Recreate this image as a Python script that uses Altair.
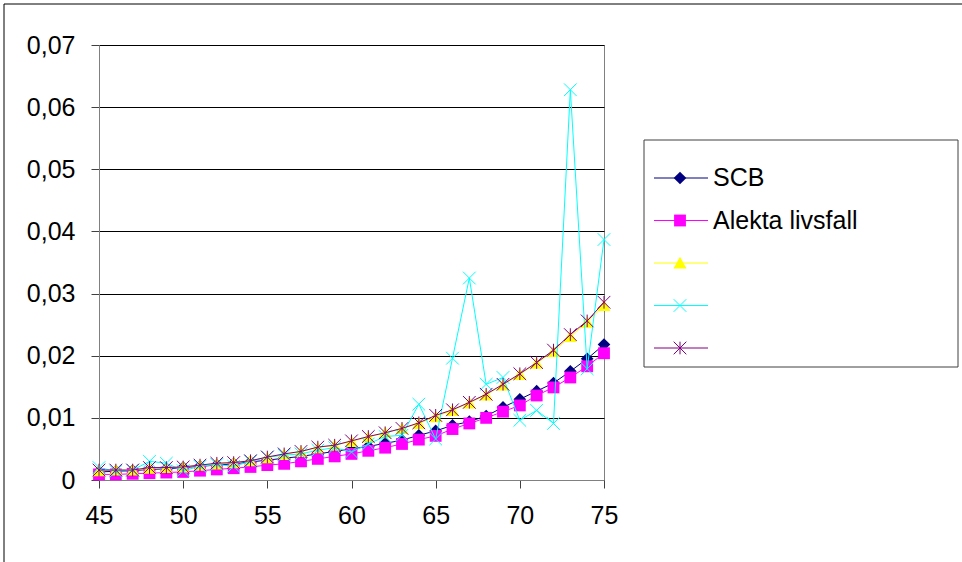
import altair as alt
import pandas as pd

# ---------------- data ----------------
ages = list(range(45, 76))
series_names = ["SCB", "Alekta livsfall", "Serie 3", "Serie 4", "Serie 5"]
legend_labels = ["SCB", "Alekta livsfall", "", "", ""]

scb = [0.0013, 0.0014, 0.0015, 0.0017, 0.0018, 0.0020, 0.0022, 0.0024, 0.0026, 0.0029,
       0.0032, 0.0035, 0.0038, 0.0042, 0.0046, 0.0050, 0.0054, 0.0059, 0.0064, 0.0072,
       0.0079, 0.0088, 0.0094, 0.0103, 0.0117, 0.0130, 0.0143, 0.0156, 0.0175, 0.0195,
       0.0218]
alekta = [0.0009, 0.0009, 0.0010, 0.0011, 0.0012, 0.0013, 0.0015, 0.0017, 0.0019, 0.0021,
          0.0024, 0.0026, 0.0030, 0.0034, 0.0038, 0.0042, 0.0047, 0.0052, 0.0058, 0.0065,
          0.0071, 0.0082, 0.0091, 0.0100, 0.0110, 0.0120, 0.0136, 0.0149, 0.0165, 0.0183,
          0.0204]
serie3 = [0.0015, 0.0016, 0.0016, 0.0019, 0.0020, 0.0021, 0.0024, 0.0026, 0.0028, 0.0031,
          0.0036, 0.0041, 0.0046, 0.0052, 0.0056, 0.0062, 0.0069, 0.0076, 0.0083, 0.0091,
          0.0102, 0.0112, 0.0124, 0.0137, 0.0153, 0.0170, 0.0188, 0.0207, 0.0231, 0.0254,
          0.0281]
serie4 = [0.0020, 0.0014, 0.0016, 0.0030, 0.0027, 0.0015, 0.0022, 0.0025, 0.0022, 0.0030,
          0.0037, 0.0040, 0.0042, 0.0048, 0.0052, 0.0045, 0.0058, 0.0070, 0.0072, 0.0122,
          0.0066, 0.0196, 0.0325, 0.0154, 0.0165, 0.0096, 0.0112, 0.0091, 0.0628, 0.0179,
          0.0387]
serie5 = [0.0016, 0.0016, 0.0016, 0.0020, 0.0020, 0.0021, 0.0024, 0.0027, 0.0028, 0.0031,
          0.0037, 0.0042, 0.0046, 0.0053, 0.0056, 0.0063, 0.0070, 0.0076, 0.0083, 0.0092,
          0.0104, 0.0113, 0.0125, 0.0138, 0.0154, 0.0171, 0.0189, 0.0209, 0.0234, 0.0256,
          0.0286]

x_ticks = [45, 50, 55, 60, 65, 70, 75]
y_ticks = [0, 0.01, 0.02, 0.03, 0.04, 0.05, 0.06, 0.07]

colors = ["#000080", "#FF00FF", "#FFFF00", "#00FFFF", "#800080"]

# ---------------- styles ----------------
FONT = "Liberation Sans"
X_PATH = "M-1,-1L1,1M-1,1L1,-1"
STAR_PATH = "M-1,-1L1,1M-1,1L1,-1M0,-1L0,1"
TRI_PATH = "M-1,0.85L0,-0.95L1,0.85Z"
marker_styles = [
    dict(shape="diamond", size=160, filled=True),
    dict(shape="square", size=140, filled=True),
    dict(shape=TRI_PATH, size=170, filled=True),
    dict(shape=X_PATH, size=160, filled=False),
    dict(shape=STAR_PATH, size=160, filled=False),
]

rows = []
for name, vals in zip(series_names, [scb, alekta, serie3, serie4, serie5]):
    for a, v in zip(ages, vals):
        rows.append({"series": name, "age": a, "value": v})
df = pd.DataFrame(rows)

x_enc = alt.X(
    "age:Q",
    scale=alt.Scale(domain=[45, 75], nice=False, zero=False),
    axis=alt.Axis(values=x_ticks, title=None, grid=False, tickSize=8, labelPadding=15,
                  labelFontSize=25, labelFont=FONT, labelColor="black",
                  domainColor="#808080", tickColor="#404040", labelFlush=False,
                  labelOverlap=False),
)
y_enc = alt.Y(
    "value:Q",
    scale=alt.Scale(domain=[0, 0.07], nice=False, zero=True),
    axis=alt.Axis(values=y_ticks, title=None, grid=True, gridColor="black", gridWidth=1,
                  tickSize=8, labelPadding=16, labelFontSize=25, labelFont=FONT,
                  labelColor="black", domainColor="#808080", tickColor="#404040",
                  labelFlush=False, labelOverlap=False,
                  labelExpr="datum.value == 0 ? '0' : replace(format(datum.value, '.2f'), '.', ',')"),
)

data_layers = []
for i, name in enumerate(series_names):
    base = alt.Chart(df).transform_filter(alt.datum.series == name).encode(x=x_enc, y=y_enc)
    data_layers.append(base.mark_line(color=colors[i], strokeWidth=1))
    st = marker_styles[i]
    data_layers.append(base.mark_point(shape=st["shape"], size=st["size"], filled=st["filled"],
                                       color=colors[i], opacity=1, strokeWidth=1))
main = alt.layer(*data_layers)

# ---------------- legend ----------------
leg_df = pd.DataFrame({"series": series_names, "label": legend_labels})
leg_y = alt.Y("series:N", scale=alt.Scale(type="point", domain=series_names,
                                         range=[133, 303], padding=0), axis=None)
one = pd.DataFrame({"k": [0]})

frame = alt.Chart(one).mark_rect(fill="transparent", stroke="black", strokeWidth=1).encode(
    x=alt.value(-95), x2=alt.value(880), y=alt.value(-41), y2=alt.value(540))
box = alt.Chart(one).mark_rect(fill="white", stroke="#404040", strokeWidth=1).encode(
    x=alt.value(545), x2=alt.value(859), y=alt.value(95), y2=alt.value(322))

leg_layers = [frame, box]
for i, name in enumerate(series_names):
    lb = alt.Chart(leg_df).transform_filter(alt.datum.series == name)
    leg_layers.append(lb.mark_rule(color=colors[i], strokeWidth=1).encode(
        x=alt.value(555), x2=alt.value(609), y=leg_y))
    st = marker_styles[i]
    leg_layers.append(lb.mark_point(shape=st["shape"], size=st["size"], filled=st["filled"],
                                    color=colors[i], opacity=1, strokeWidth=1).encode(
        x=alt.value(581), y=leg_y))
leg_layers.append(alt.Chart(leg_df).mark_text(align="left", baseline="middle", fontSize=25,
                                              font=FONT, color="black").encode(
    x=alt.value(614), y=leg_y, text="label:N"))
legend = alt.layer(*leg_layers)

chart = alt.layer(main, legend).resolve_scale(y="independent").properties(
    width=505, height=435,
    autosize=alt.AutoSizeParams(type="none"),
    padding={"left": 99, "top": 45, "right": 358, "bottom": 82},
    background="white",
).configure_view(stroke="#808080", strokeWidth=1)

chart.save("out.html", embed_options={"renderer": "svg", "actions": False})
